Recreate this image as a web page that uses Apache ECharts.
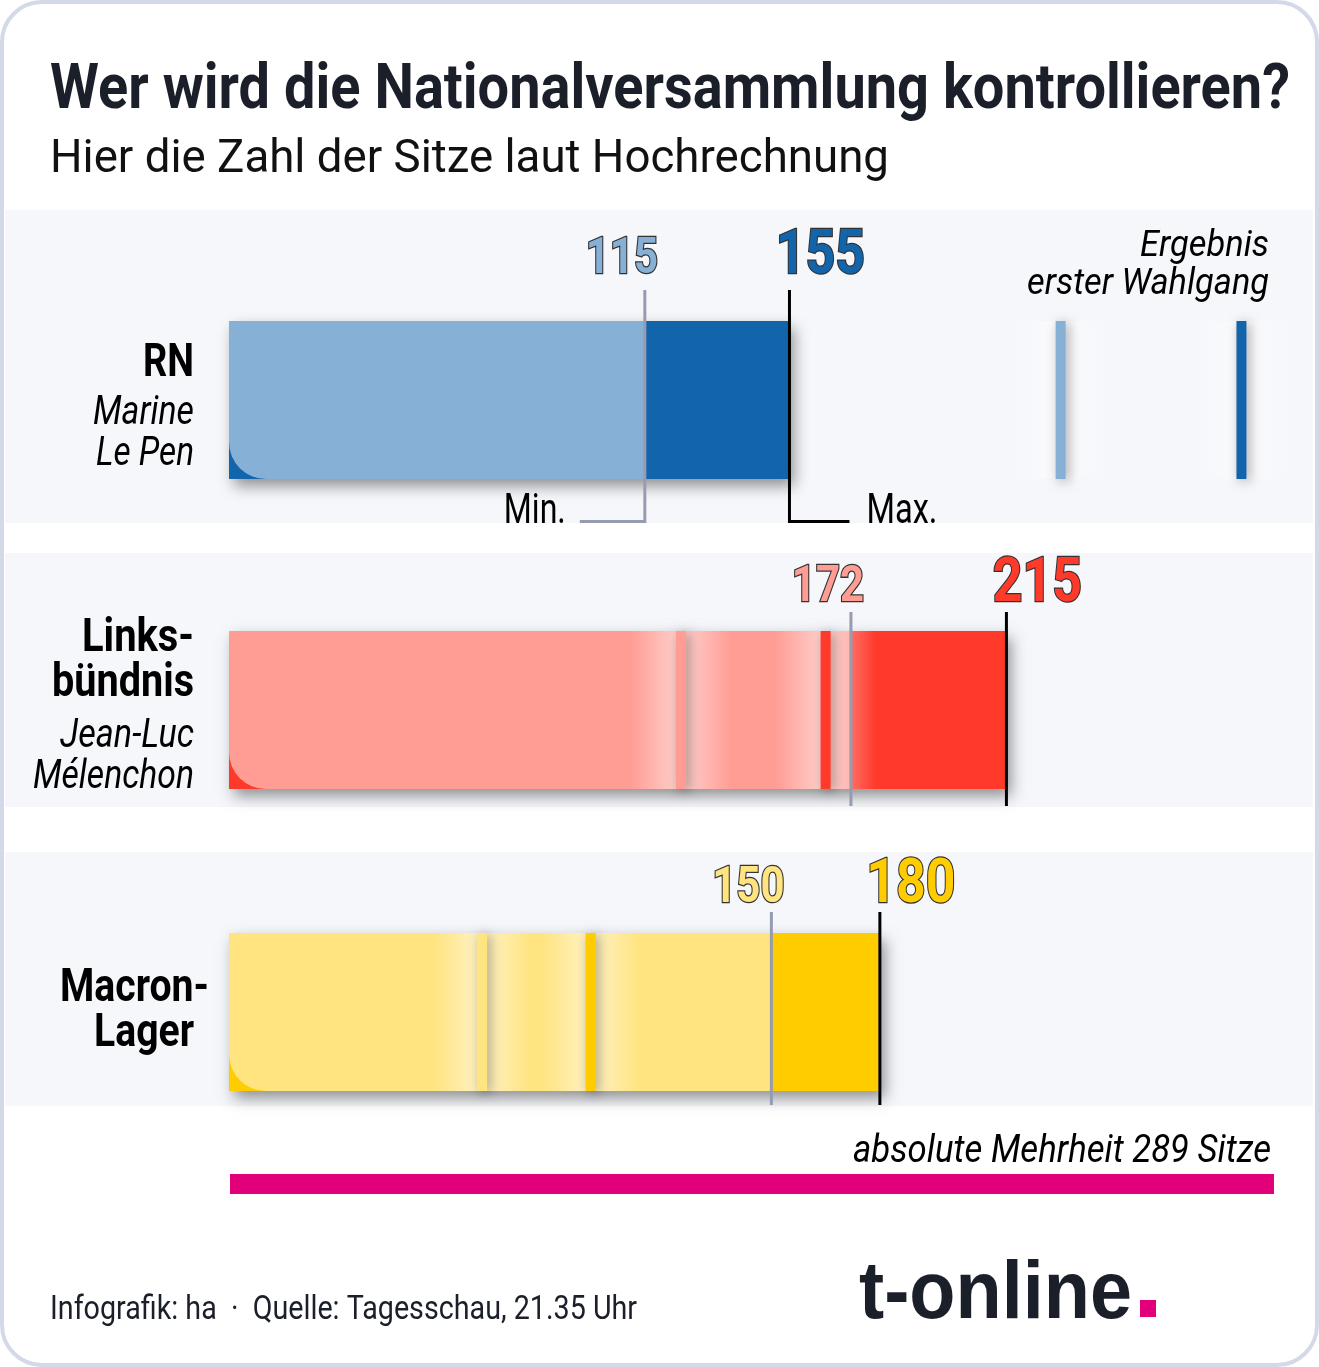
<!DOCTYPE html>
<html><head><meta charset="utf-8">
<script src="https://cdn.jsdelivr.net/npm/echarts@6/dist/echarts.min.js"></script>
<style>html,body{margin:0;padding:0;background:#fff}#c{width:1319px;height:1367px}</style>
</head><body><div id="c"></div>
<script>
// ---------- data ----------
const parties = ['RN', 'Linksbündnis', 'Macron-Lager'];
const seatsMin = [115, 172, 150];
const seatsMax = [155, 215, 180];
const firstRoundLow = [230, 125, 70];
const firstRoundHigh = [280, 165, 100];
const majoritySeats = 289;

// ---------- styles / layout ----------
const lightColors = ['#87b0d7', '#ff9d95', '#ffe47f'];
const darkColors = ['#1264ab', '#ff3a2b', '#ffcc00'];
const rowTop = [321, 631, 933];
const barH = 158;
const lineTopOff = [31, 19, 21];
const lineBotOff = [44, 17, 14];
const labelBaseOff = [47, 29, 30];
const NAVY = '#1b1f2a';
const MID = 0.27;

const mctx = document.createElement('canvas').getContext('2d');
function fitScale(text, fs, weight, style, family, w) {
  mctx.font = style + ' ' + weight + ' ' + fs + 'px ' + family;
  return w / mctx.measureText(text).width;
}
function T(text, x, base, fs, o) {
  o = o || {};
  const weight = o.bold ? 'bold' : 'normal';
  const fstyle = o.italic ? 'italic' : 'normal';
  const family = o.family || 'Roboto';
  const sx = o.w ? fitScale(text, fs, weight, fstyle, family, o.w) : (o.sx || 1);
  const st = { text: text, fontSize: fs, fontWeight: weight, fontStyle: fstyle, fontFamily: family,
    fill: o.fill || '#000', align: o.align || 'left', verticalAlign: 'middle' };
  if (o.stroke) { st.stroke = o.stroke; st.lineWidth = o.lw || 1.5; }
  return { type: 'text', x: x, y: base - MID * fs, scaleX: sx, z: o.z || 100, silent: true, style: st };
}

function glowFill() {
  return new echarts.graphic.LinearGradient(0, 0, 1, 0, [
    { offset: 0, color: 'rgba(255,255,255,0)' },
    { offset: 0.5, color: 'rgba(255,255,255,0.55)' },
    { offset: 1, color: 'rgba(255,255,255,0)' }
  ]);
}

function renderRow(i) {
  return function (params, api) {
    const c0 = api.coord([0, 0]);
    const x0 = c0[0], cy = c0[1];
    const xMin = api.coord([api.value(0), 0])[0];
    const xMax = api.coord([api.value(1), 0])[0];
    const xF1 = api.coord([api.value(2), 0])[0];
    const xF2 = api.coord([api.value(3), 0])[0];
    const h = api.size([0, 1])[1];
    const top = cy - h / 2, bot = cy + h / 2;
    const light = lightColors[i], dark = darkColors[i];
    const ch = [];
    ch.push({ type: 'rect', shape: { x: x0, y: top, width: xMax - x0, height: h },
      style: { fill: dark, shadowBlur: 14, shadowOffsetX: 5, shadowOffsetY: 7, shadowColor: 'rgba(0,0,0,0.42)' } });
    ch.push({ type: 'rect', shape: { x: x0, y: top, width: xMin - x0, height: h, r: [0, 0, 0, 37] },
      style: { fill: light } });
    [xF1, xF2].forEach(function (xf) {
      ch.push({ type: 'rect', shape: { x: xf - 50, y: top, width: 100, height: h },
        style: { fill: glowFill() } });
    });
    [[xF1, light], [xF2, dark]].forEach(function (m) {
      ch.push({ type: 'rect', shape: { x: m[0] - 5, y: top, width: 10, height: h },
        style: { fill: m[1], shadowBlur: 12, shadowOffsetX: 3, shadowOffsetY: 2, shadowColor: 'rgba(0,0,0,0.33)' } });
    });
    const lt = top - lineTopOff[i], lb = bot + lineBotOff[i];
    ch.push({ type: 'line', shape: { x1: xMin, y1: lt, x2: xMin, y2: lb }, style: { stroke: '#959cb0', lineWidth: 3 } });
    ch.push({ type: 'line', shape: { x1: xMax, y1: lt, x2: xMax, y2: lb }, style: { stroke: '#000', lineWidth: 3 } });
    if (i === 0) {
      ch.push({ type: 'polyline', shape: { points: [[xMin - 65, lb - 1.5], [xMin, lb - 1.5]] }, style: { stroke: '#959cb0', lineWidth: 3, fill: null } });
      ch.push({ type: 'polyline', shape: { points: [[xMax, lb - 1.5], [xMax + 60, lb - 1.5]] }, style: { stroke: '#000', lineWidth: 3, fill: null } });
      ch.push(T('Min.', xMin - 79, lb + 1, 42, { align: 'right', w: 62 }));
      ch.push(T('Max.', xMax + 77, lb + 1, 42, { align: 'left', w: 71 }));
    }
    const base = top - labelBaseOff[i];
    ch.push(T(String(api.value(0)), xMin - 23, base, 50, { bold: true, align: 'center', sx: 0.84, fill: light, stroke: '#333', lw: 2.6 }));
    ch.push(T(String(api.value(1)), xMax + 31, base, 61, { bold: true, align: 'center', sx: 0.85, fill: dark, stroke: '#333', lw: 2.4 }));
    return { type: 'group', children: ch };
  };
}

const grids = [], xAxes = [], yAxes = [], series = [];
for (let i = 0; i < 3; i++) {
  grids.push({ left: 229, width: 1045, top: rowTop[i], height: barH });
  xAxes.push({ type: 'value', gridIndex: i, min: 0, max: majoritySeats, show: false });
  yAxes.push({ type: 'category', gridIndex: i, data: [parties[i]], show: false });
  series.push({ type: 'custom', xAxisIndex: i, yAxisIndex: i, silent: true, animation: false, clip: false, z: 5,
    encode: { x: [0, 1, 2, 3], y: 4 },
    data: [[seatsMin[i], seatsMax[i], firstRoundLow[i], firstRoundHigh[i], 0]],
    renderItem: renderRow(i) });
}
grids.push({ left: 230, width: 1044, top: 1174, height: 20 });
xAxes.push({ type: 'value', gridIndex: 3, min: 0, max: majoritySeats, show: false });
yAxes.push({ type: 'category', gridIndex: 3, data: ['Mehrheit'], show: false });
series.push({ type: 'bar', xAxisIndex: 3, yAxisIndex: 3, data: [majoritySeats], barWidth: '100%', silent: true,
  animation: false, itemStyle: { color: '#e2007a' } });

const graphics = [
  { type: 'rect', z: 0, silent: true, shape: { x: 2, y: 2, width: 1315, height: 1363, r: 40 }, style: { fill: '#fff', stroke: '#d4d9e9', lineWidth: 4 } },
  { type: 'rect', z: 1, silent: true, shape: { x: 5, y: 210, width: 1308, height: 313 }, style: { fill: '#f6f7fb' } },
  { type: 'rect', z: 1, silent: true, shape: { x: 5, y: 553, width: 1308, height: 254 }, style: { fill: '#f6f7fb' } },
  { type: 'rect', z: 1, silent: true, shape: { x: 5, y: 852, width: 1308, height: 254 }, style: { fill: '#f6f7fb' } },
  T('Wer wird die Nationalversammlung kontrollieren?', 50, 109, 63, { bold: true, w: 1240, fill: NAVY }),
  T('Hier die Zahl der Sitze laut Hochrechnung', 50, 173, 46, { w: 839, fill: '#111' }),
  T('RN', 194, 377, 46, { bold: true, align: 'right', w: 51 }),
  T('Marine', 194, 425, 41, { italic: true, align: 'right', w: 101 }),
  T('Le Pen', 194, 466, 41, { italic: true, align: 'right', w: 98 }),
  T('Links-', 194, 652, 47, { bold: true, align: 'right', w: 112 }),
  T('bündnis', 194, 697, 47, { bold: true, align: 'right', w: 142 }),
  T('Jean-Luc', 194, 748, 41, { italic: true, align: 'right', w: 134 }),
  T('Mélenchon', 194, 789, 41, { italic: true, align: 'right', w: 161 }),
  T('Macron-', 209, 1002, 47, { bold: true, align: 'right', w: 149 }),
  T('Lager', 194, 1047, 47, { bold: true, align: 'right', w: 100 }),
  T('Ergebnis', 1269, 257, 37, { italic: true, align: 'right', w: 129 }),
  T('erster Wahlgang', 1269, 295, 37, { italic: true, align: 'right', w: 242 }),
  T('absolute Mehrheit 289 Sitze', 1271, 1163, 38, { italic: true, align: 'right', w: 418 }),
  T('Infografik: ha  ·  Quelle: Tagesschau, 21.35 Uhr', 50, 1320, 33, { w: 587, fill: NAVY }),
  T('t-online', 859, 1318, 82, { bold: true, family: 'Liberation Sans', w: 273, fill: NAVY }),
  { type: 'rect', z: 100, silent: true, shape: { x: 1140, y: 1300, width: 16, height: 17 }, style: { fill: '#e2007a' } }
];

const chart = echarts.init(document.getElementById('c'), null, { renderer: 'canvas' });
chart.setOption({
  backgroundColor: '#fff',
  animation: false,
  grid: grids, xAxis: xAxes, yAxis: yAxes, series: series,
  graphic: { elements: graphics }
});
</script></body></html>
